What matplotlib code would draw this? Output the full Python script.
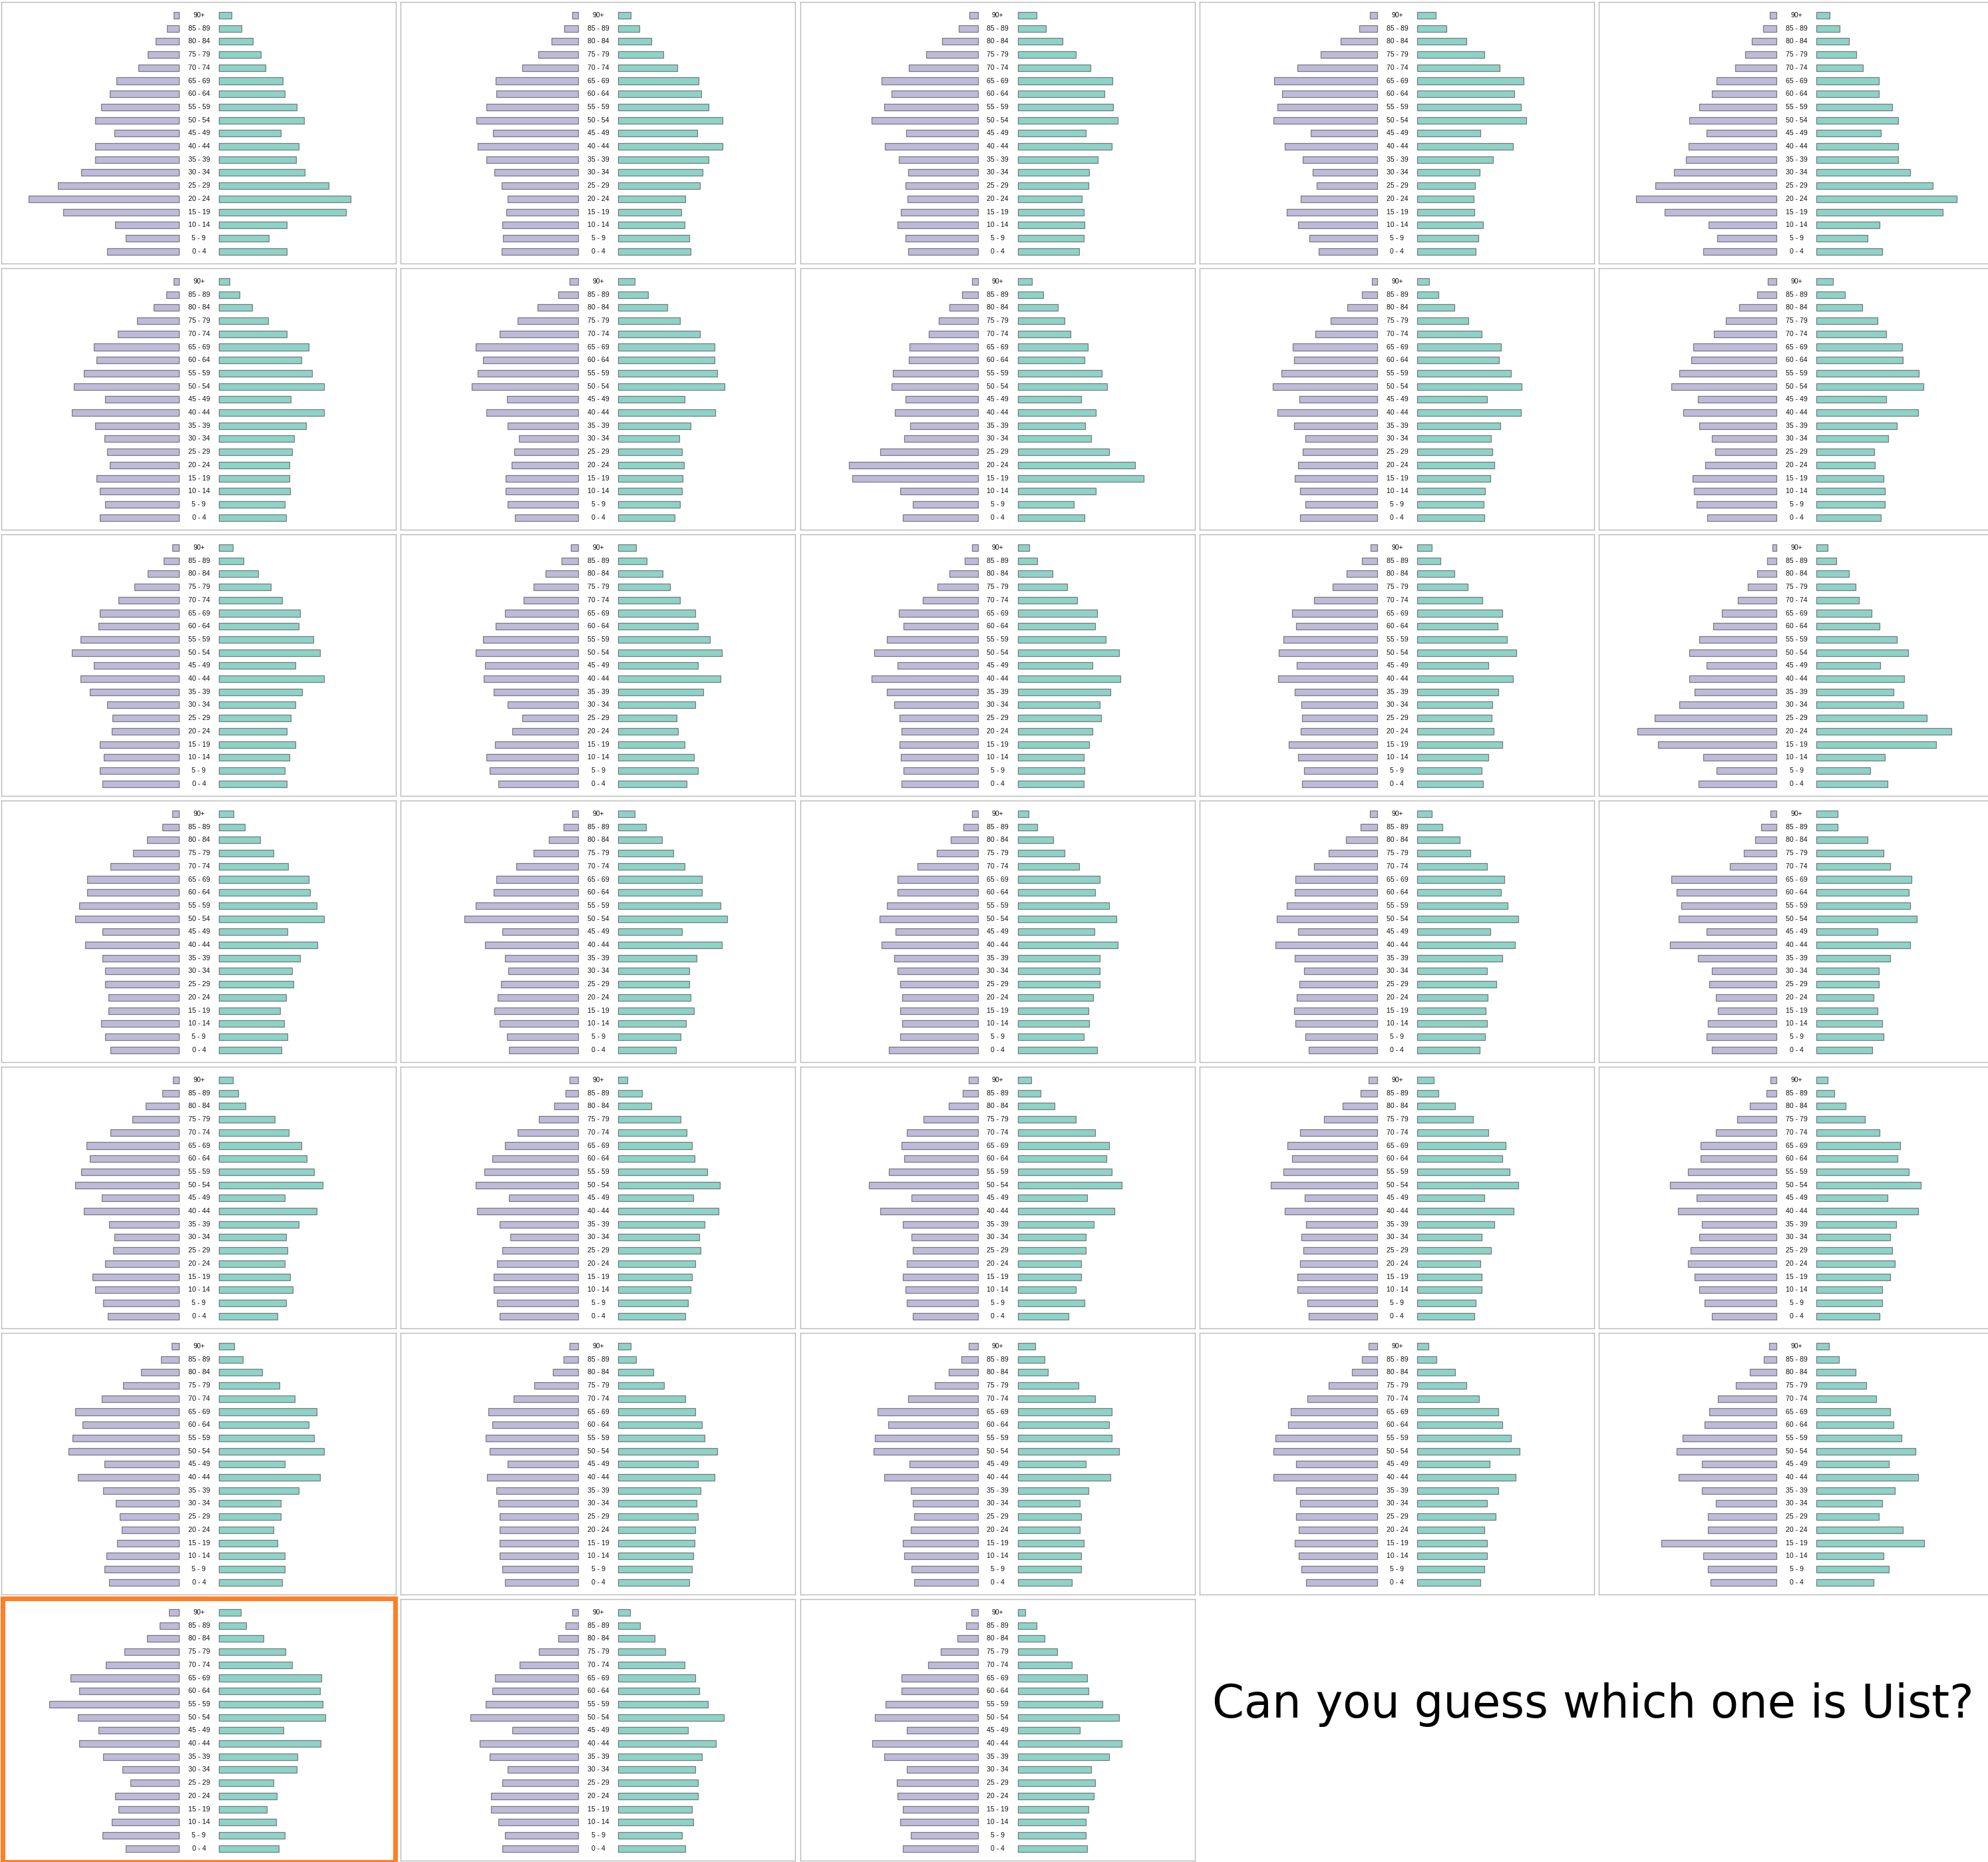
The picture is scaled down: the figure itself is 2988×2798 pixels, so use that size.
import matplotlib
matplotlib.use("Agg")
import matplotlib.pyplot as plt
from matplotlib.patches import Rectangle

# age bands, top of the pyramid first
ages = ["90+", "85 - 89", "80 - 84", "75 - 79", "70 - 74", "65 - 69", "60 - 64",
        "55 - 59", "50 - 54", "45 - 49", "40 - 44", "35 - 39", "30 - 34",
        "25 - 29", "20 - 24", "15 - 19", "10 - 14", "5 - 9", "0 - 4"]

# share of each area's population (%), males on the left, females on the right
male_01 = [0.20, 0.46, 0.88, 1.20, 1.56, 2.38, 2.64, 2.98, 3.20, 2.46, 3.20, 3.21, 3.74, 4.62, 5.75, 4.41, 2.43, 2.04, 2.74]
female_01 = [0.49, 0.86, 1.30, 1.59, 1.79, 2.43, 2.51, 2.96, 3.25, 2.36, 3.04, 2.95, 3.28, 4.20, 5.03, 4.84, 2.60, 1.91, 2.59]
male_02 = [0.23, 0.53, 1.02, 1.52, 2.13, 3.16, 3.14, 3.50, 3.89, 3.26, 3.83, 3.50, 3.20, 2.93, 2.71, 2.75, 2.91, 2.87, 2.93]
female_02 = [0.47, 0.80, 1.27, 1.72, 2.25, 3.07, 3.16, 3.44, 3.98, 3.01, 3.98, 3.44, 3.22, 3.11, 2.56, 2.40, 2.52, 2.71, 2.77]
male_03 = [0.33, 0.74, 1.35, 1.97, 2.64, 3.67, 3.30, 3.57, 4.06, 2.73, 3.55, 3.01, 2.66, 2.75, 2.68, 2.93, 3.07, 2.77, 2.66]
female_03 = [0.72, 1.09, 1.70, 2.21, 2.77, 3.61, 3.32, 3.63, 3.83, 2.60, 3.59, 3.05, 2.73, 2.71, 2.44, 2.52, 2.54, 2.52, 2.34]
male_04 = [0.27, 0.68, 1.39, 2.15, 3.05, 3.93, 3.63, 3.81, 3.95, 2.54, 3.52, 2.85, 2.46, 2.32, 2.91, 3.46, 3.01, 2.60, 2.23]
female_04 = [0.72, 1.13, 1.88, 2.58, 3.16, 4.06, 3.71, 3.96, 4.16, 2.42, 3.65, 2.91, 2.40, 2.21, 2.17, 2.19, 2.52, 2.34, 2.25]
male_05 = [0.25, 0.51, 0.94, 1.21, 1.58, 2.30, 2.48, 2.95, 3.34, 2.68, 3.36, 3.46, 3.91, 4.63, 5.35, 4.28, 2.60, 2.27, 2.81]
female_05 = [0.51, 0.88, 1.25, 1.52, 1.78, 2.38, 2.38, 2.89, 3.13, 2.46, 3.13, 3.13, 3.57, 4.45, 5.35, 4.82, 2.42, 1.95, 2.50]
male_06 = [0.20, 0.49, 0.96, 1.60, 2.34, 3.26, 3.14, 3.63, 4.02, 2.83, 4.08, 3.20, 2.85, 2.75, 2.64, 3.16, 3.03, 2.81, 3.01]
female_06 = [0.41, 0.78, 1.27, 1.88, 2.58, 3.42, 3.16, 3.55, 4.00, 2.75, 4.02, 3.32, 2.87, 2.79, 2.70, 2.70, 2.71, 2.52, 2.56]
male_07 = [0.35, 0.76, 1.56, 2.32, 3.01, 3.93, 3.65, 3.85, 4.08, 2.73, 3.52, 2.70, 2.27, 2.44, 2.54, 2.77, 2.77, 2.70, 2.42]
female_07 = [0.63, 1.13, 1.86, 2.36, 3.11, 3.67, 3.67, 3.77, 4.06, 2.52, 3.71, 2.75, 2.34, 2.44, 2.50, 2.46, 2.44, 2.36, 2.15]
male_08 = [0.23, 0.59, 1.07, 1.50, 1.86, 2.60, 2.62, 3.24, 3.30, 2.75, 3.16, 2.58, 2.81, 3.71, 4.92, 4.80, 2.97, 2.48, 2.85]
female_08 = [0.55, 0.98, 1.54, 1.80, 2.01, 2.68, 2.54, 3.22, 3.40, 2.42, 2.99, 2.58, 2.81, 3.50, 4.49, 4.82, 2.99, 2.15, 2.54]
male_09 = [0.21, 0.57, 1.15, 1.78, 2.36, 3.22, 3.18, 3.65, 3.98, 2.97, 3.81, 3.16, 2.75, 2.85, 3.03, 3.14, 2.95, 2.73, 2.95]
female_09 = [0.47, 0.82, 1.43, 1.95, 2.46, 3.20, 3.13, 3.57, 3.98, 2.66, 3.96, 3.18, 2.81, 2.87, 2.95, 2.79, 2.60, 2.54, 2.56]
male_10 = [0.33, 0.73, 1.44, 1.94, 2.38, 3.19, 3.26, 3.72, 4.01, 2.99, 3.56, 2.94, 2.47, 2.33, 2.71, 3.21, 3.16, 3.04, 2.64]
female_10 = [0.63, 1.08, 1.75, 2.33, 2.65, 3.27, 3.30, 3.90, 4.09, 2.66, 3.87, 3.07, 2.73, 2.20, 2.23, 2.56, 2.61, 2.60, 2.46]
male_11 = [0.25, 0.59, 1.19, 1.70, 2.32, 3.03, 3.07, 3.77, 4.10, 3.26, 3.77, 3.40, 2.73, 2.54, 2.56, 3.01, 2.87, 3.01, 2.93]
female_11 = [0.53, 0.94, 1.50, 1.97, 2.42, 3.09, 3.05, 3.61, 3.87, 2.91, 4.02, 3.18, 2.93, 2.73, 2.58, 2.91, 2.68, 2.52, 2.60]
male_12 = [0.29, 0.64, 1.25, 1.72, 2.09, 2.81, 3.16, 3.65, 3.91, 3.57, 3.61, 3.22, 2.70, 2.15, 2.52, 3.18, 3.50, 3.38, 3.05]
female_12 = [0.68, 1.09, 1.70, 1.97, 2.36, 2.93, 3.05, 3.50, 3.95, 3.05, 3.89, 3.24, 2.95, 2.23, 2.29, 2.52, 2.89, 3.05, 2.62]
male_13 = [0.21, 0.49, 1.07, 1.54, 2.09, 3.01, 2.83, 3.48, 3.96, 3.07, 4.04, 3.46, 3.20, 2.99, 2.91, 2.99, 2.93, 2.83, 2.91]
female_13 = [0.45, 0.76, 1.33, 1.89, 2.27, 3.03, 2.95, 3.36, 3.87, 2.85, 3.93, 3.55, 3.13, 3.18, 2.85, 2.73, 2.52, 2.56, 2.52]
male_14 = [0.25, 0.59, 1.17, 1.70, 2.42, 3.24, 3.09, 3.59, 3.75, 3.07, 3.77, 3.14, 2.89, 2.87, 2.93, 3.38, 3.01, 2.79, 2.87]
female_14 = [0.55, 0.90, 1.43, 1.93, 2.50, 3.24, 3.07, 3.44, 3.79, 2.71, 3.65, 3.09, 2.87, 2.85, 2.93, 3.24, 2.71, 2.46, 2.52]
male_15 = [0.17, 0.37, 0.75, 1.10, 1.47, 2.09, 2.42, 2.94, 3.34, 2.66, 3.33, 3.13, 3.71, 4.66, 5.32, 4.53, 2.79, 2.30, 2.97]
female_15 = [0.44, 0.75, 1.24, 1.50, 1.62, 2.10, 2.40, 3.07, 3.49, 2.44, 3.35, 2.93, 3.32, 4.22, 5.15, 4.57, 2.61, 2.05, 2.70]
male_16 = [0.25, 0.63, 1.23, 1.76, 2.62, 3.50, 3.50, 3.81, 3.96, 2.93, 3.57, 2.93, 2.83, 2.83, 2.70, 2.70, 2.97, 2.81, 2.62]
female_16 = [0.55, 1.00, 1.58, 2.07, 2.64, 3.44, 3.48, 3.73, 4.00, 2.62, 3.75, 3.11, 2.79, 2.85, 2.56, 2.34, 2.50, 2.62, 2.38]
male_17 = [0.25, 0.57, 1.13, 1.72, 2.38, 3.14, 3.22, 3.93, 4.34, 2.91, 3.57, 2.81, 2.68, 2.95, 3.09, 3.20, 3.01, 2.73, 2.64]
female_17 = [0.63, 1.05, 1.68, 2.11, 2.52, 3.20, 3.18, 3.89, 4.16, 2.42, 3.95, 2.99, 2.71, 2.70, 2.77, 2.89, 2.58, 2.38, 2.21]
male_18 = [0.21, 0.55, 1.02, 1.56, 2.29, 3.07, 3.07, 3.46, 3.75, 3.14, 3.67, 3.18, 3.07, 2.97, 2.89, 2.95, 2.89, 2.97, 3.38]
female_18 = [0.43, 0.74, 1.35, 1.80, 2.34, 3.14, 2.95, 3.50, 3.77, 2.93, 3.83, 3.13, 3.13, 3.13, 2.89, 2.70, 2.73, 2.52, 3.03]
male_19 = [0.27, 0.64, 1.19, 1.86, 2.40, 3.11, 3.14, 3.44, 3.83, 3.01, 3.89, 3.14, 2.79, 2.97, 3.07, 3.18, 3.11, 2.75, 2.62]
female_19 = [0.55, 0.98, 1.64, 2.03, 2.66, 3.32, 3.20, 3.46, 3.85, 2.79, 3.73, 3.24, 2.66, 3.03, 2.70, 2.62, 2.66, 2.60, 2.38]
male_20 = [0.24, 0.58, 0.82, 1.26, 1.79, 4.02, 3.82, 3.63, 3.73, 2.66, 4.06, 3.00, 2.47, 2.56, 2.32, 2.23, 2.61, 2.66, 2.47]
female_20 = [0.82, 0.82, 1.94, 2.56, 2.81, 3.63, 3.53, 3.58, 3.82, 2.32, 3.58, 2.81, 2.37, 2.37, 2.18, 2.32, 2.52, 2.56, 2.13]
male_21 = [0.24, 0.63, 1.26, 1.79, 2.61, 3.53, 3.39, 3.73, 3.97, 2.95, 3.63, 2.66, 2.47, 2.52, 2.81, 3.29, 3.19, 2.90, 2.71]
female_21 = [0.53, 0.73, 1.02, 2.13, 2.66, 3.14, 3.34, 3.63, 3.97, 2.52, 3.73, 3.05, 2.56, 2.61, 2.52, 2.71, 2.81, 2.56, 2.23]
male_22 = [0.34, 0.48, 0.92, 1.50, 2.32, 2.81, 3.29, 3.58, 3.92, 2.66, 3.87, 3.00, 2.61, 2.90, 3.10, 3.24, 3.24, 3.10, 3.00]
female_22 = [0.34, 0.92, 1.26, 2.37, 2.61, 2.81, 2.90, 3.39, 3.87, 2.85, 3.82, 3.29, 3.10, 3.14, 2.95, 2.81, 2.76, 2.66, 2.56]
male_23 = [0.34, 0.58, 1.11, 2.08, 2.71, 2.90, 2.81, 3.39, 4.16, 2.52, 3.73, 2.85, 2.52, 2.47, 2.71, 2.85, 2.76, 2.71, 2.47]
female_23 = [0.53, 0.87, 1.40, 2.23, 2.95, 3.48, 3.39, 3.58, 3.97, 2.66, 3.68, 2.90, 2.61, 2.61, 2.42, 2.42, 2.23, 2.56, 1.94]
male_24 = [0.34, 0.63, 1.31, 2.03, 2.95, 3.43, 3.24, 3.58, 4.06, 2.76, 3.53, 2.71, 2.90, 2.81, 2.95, 3.05, 3.05, 2.66, 2.61]
female_24 = [0.63, 0.82, 1.45, 2.13, 2.71, 3.39, 3.24, 3.53, 3.87, 2.56, 3.68, 2.95, 2.47, 2.81, 2.42, 2.47, 2.47, 2.23, 2.18]
male_25 = [0.24, 0.39, 1.02, 1.50, 2.32, 2.90, 2.90, 3.39, 4.06, 3.05, 3.77, 2.85, 2.95, 3.29, 3.39, 3.14, 2.95, 2.76, 2.47]
female_25 = [0.44, 0.68, 1.11, 1.84, 2.42, 3.19, 3.10, 3.53, 3.97, 2.71, 3.87, 3.05, 2.81, 2.90, 3.00, 2.81, 2.52, 2.52, 2.42]
male_26 = [0.29, 0.68, 1.45, 2.13, 2.95, 3.97, 3.68, 4.06, 4.21, 2.85, 3.87, 2.90, 2.42, 2.27, 2.18, 2.37, 2.76, 2.85, 2.66]
female_26 = [0.58, 0.92, 1.64, 2.32, 2.90, 3.73, 3.43, 3.63, 4.02, 2.52, 3.87, 3.05, 2.37, 2.37, 2.08, 2.23, 2.52, 2.52, 2.42]
male_27 = [0.34, 0.58, 0.97, 1.69, 2.47, 3.43, 3.29, 3.53, 3.39, 2.71, 3.48, 3.14, 3.05, 3.00, 3.00, 3.00, 3.00, 2.90, 2.81]
female_27 = [0.48, 0.68, 1.35, 1.74, 2.56, 2.95, 3.19, 3.29, 3.77, 3.05, 3.68, 3.14, 3.00, 3.05, 2.95, 2.90, 2.85, 2.81, 2.71]
male_28 = [0.34, 0.63, 1.11, 1.64, 2.66, 3.82, 3.43, 3.92, 3.97, 2.61, 3.58, 2.56, 2.47, 2.42, 2.56, 2.85, 2.81, 2.52, 2.42]
female_28 = [0.68, 1.02, 1.16, 2.32, 2.95, 3.58, 3.48, 3.58, 3.87, 2.61, 3.53, 2.71, 2.37, 2.42, 2.37, 2.52, 2.42, 2.42, 2.08]
male_29 = [0.34, 0.58, 0.97, 1.84, 2.66, 3.29, 3.39, 3.87, 3.97, 3.10, 3.97, 3.10, 2.95, 3.10, 3.00, 3.14, 3.00, 2.90, 2.71]
female_29 = [0.44, 0.73, 1.45, 1.89, 2.37, 3.10, 3.24, 3.58, 3.92, 2.76, 3.77, 3.10, 2.66, 3.00, 2.56, 2.66, 2.66, 2.56, 2.42]
male_30 = [0.29, 0.48, 1.02, 1.55, 2.23, 2.56, 2.76, 3.58, 3.82, 2.85, 3.73, 2.85, 2.32, 2.61, 2.61, 4.40, 2.81, 2.61, 2.52]
female_30 = [0.48, 0.87, 1.50, 1.89, 2.27, 2.81, 2.95, 3.24, 3.77, 2.76, 3.87, 3.00, 2.52, 2.37, 3.29, 4.11, 2.56, 2.76, 2.18]
male_31 = [0.37, 0.73, 1.21, 2.09, 2.80, 4.14, 3.82, 4.94, 3.85, 3.06, 3.82, 2.90, 2.15, 1.86, 2.43, 2.32, 2.57, 2.91, 2.04]
female_31 = [0.83, 1.05, 1.69, 2.55, 2.80, 3.92, 3.86, 3.96, 4.07, 2.47, 3.88, 3.00, 2.98, 2.09, 2.20, 1.83, 2.18, 2.51, 2.28]
male_32 = [0.24, 0.48, 0.77, 1.50, 2.23, 3.19, 3.29, 3.53, 4.11, 2.52, 3.77, 3.39, 2.71, 2.90, 3.34, 3.34, 3.05, 2.81, 2.90]
female_32 = [0.44, 0.82, 1.40, 1.79, 2.52, 2.95, 3.10, 3.43, 4.02, 2.66, 3.73, 3.19, 2.95, 3.05, 3.05, 2.81, 2.85, 2.42, 2.56]
male_33 = [0.24, 0.44, 0.77, 1.40, 1.89, 2.90, 2.90, 3.53, 3.92, 2.71, 4.02, 3.58, 2.71, 3.10, 3.05, 2.85, 2.95, 2.56, 2.85]
female_33 = [0.29, 0.73, 1.02, 1.50, 2.08, 2.66, 2.71, 3.24, 3.87, 2.37, 3.97, 3.48, 2.81, 2.95, 2.90, 2.71, 2.61, 2.61, 2.66]

males = [male_01, male_02, male_03, male_04, male_05, male_06, male_07, male_08,
         male_09, male_10, male_11, male_12, male_13, male_14, male_15, male_16,
         male_17, male_18, male_19, male_20, male_21, male_22, male_23, male_24,
         male_25, male_26, male_27, male_28, male_29, male_30, male_31, male_32,
         male_33]
females = [female_01, female_02, female_03, female_04, female_05, female_06,
           female_07, female_08, female_09, female_10, female_11, female_12,
           female_13, female_14, female_15, female_16, female_17, female_18,
           female_19, female_20, female_21, female_22, female_23, female_24,
           female_25, female_26, female_27, female_28, female_29, female_30,
           female_31, female_32, female_33]

uist = 30  # the highlighted one
question = "Can you guess which one is Uist?"

W, H, DPI = 2988, 2798, 100
PURPLE, TEAL, EDGE = "#bebada", "#8dd3c7", "#7a7a7a"

PX = 39.4      # pixels per percent
GAP = 0.76     # half of the label gap, in percent
PW, PH = 593, 393

fig = plt.figure(figsize=(W / DPI, H / DPI), dpi=DPI)

for k, (m, f) in enumerate(zip(males, females)):
    r, c = divmod(k, 5)
    x0 = 2 + 600.3 * c
    y0 = 3 + 400 * r
    ax = fig.add_axes([x0 / W, 1 - (y0 + PH) / H, PW / W, PH / H])
    y = list(range(len(ages)))
    ax.barh(y, [-v for v in m], left=-GAP, height=0.51, color=PURPLE,
            edgecolor=EDGE, linewidth=0.9)
    ax.barh(y, f, left=GAP, height=0.51, color=TEAL, edgecolor=EDGE, linewidth=0.9)
    for i, lab in enumerate(ages):
        ax.text(0, i, lab, ha="center", va="center", fontsize=7.6,
                family="Liberation Sans", color="#111111")
    ax.set_xlim(-297 / PX, (PW - 297) / PX)
    ax.set_ylim(18.93, -1.015)
    ax.set_xticks([])
    ax.set_yticks([])
    for s in ax.spines.values():
        s.set_color("#b8b8b8")
        s.set_linewidth(1.0)

# orange frame round the Uist panel
r, c = divmod(uist, 5)
fx0 = 3.5 + 600.3 * c
fy0 = 2 + 400 * r
fig.patches.append(Rectangle((fx0 / W, 1 - (fy0 + 396) / H), 590 / W, 396 / H,
                             transform=fig.transFigure, fill=False,
                             edgecolor="#ff7f27", linewidth=7 * 0.72))

fig.text(2394 / W, 1 - 2581 / H, question, ha="center", va="baseline",
         fontsize=49.5, family="DejaVu Sans", color="black")

fig.savefig("out.png", dpi=DPI, facecolor="white")
